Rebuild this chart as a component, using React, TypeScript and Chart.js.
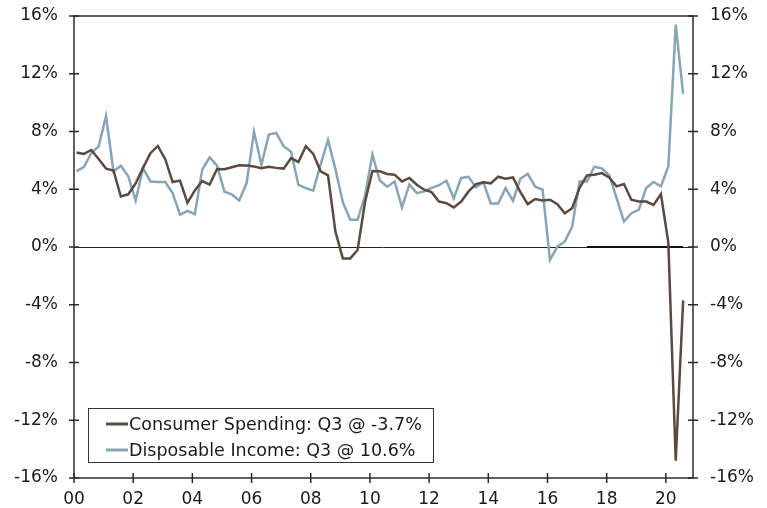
import React, { useEffect, useRef } from 'react';
import { Chart, registerables } from 'chart.js';

Chart.register(...registerables);

// ---------------- data ----------------
// quarterly observations, 2000 Q1 .. 2020 Q3 (y/y % change)
const firstYear = 2000;
const lastYear = 2020;
const lastQuarterOfLastYear = 3;
const quarters: string[] = [];
for (let y = firstYear; y <= lastYear; y++) {
  for (let q = 1; q <= 4; q++) {
    if (y === lastYear && q > lastQuarterOfLastYear) break;
    quarters.push(`${y} Q${q}`);
  }
}

const consumerSpending = [
  6.55, 6.45, 6.72, 6.1, 5.43, 5.3, 3.5, 3.65,
  4.4, 5.48, 6.5, 7.0, 6.08, 4.5, 4.6, 3.06,
  3.92, 4.57, 4.32, 5.4, 5.38, 5.52, 5.66, 5.65,
  5.58, 5.45, 5.55, 5.48, 5.43, 6.15, 5.89, 6.98,
  6.45, 5.24, 4.96, 1.07, -0.79, -0.79, -0.21, 3.1,
  5.26, 5.24, 5.06, 5.01, 4.54, 4.78, 4.31, 3.97,
  3.8, 3.15, 3.04, 2.74, 3.15, 3.85, 4.36, 4.48,
  4.41, 4.87, 4.73, 4.82, 3.8, 2.97, 3.32, 3.22,
  3.27, 2.97, 2.34, 2.69, 4.1, 4.96, 5.01, 5.12,
  4.82, 4.2, 4.36, 3.27, 3.15, 3.15, 2.92, 3.66,
  0.3, -14.8, -3.7,
];

const disposableIncome = [
  5.25, 5.54, 6.5, 6.98, 9.07, 5.24, 5.63, 4.89,
  3.22, 5.47, 4.54, 4.5, 4.5, 3.73, 2.23, 2.5,
  2.27, 5.36, 6.21, 5.63, 3.83, 3.64, 3.22, 4.43,
  7.98, 5.7, 7.79, 7.9, 6.98, 6.6, 4.3, 4.08,
  3.9, 5.7, 7.42, 5.4, 3.1, 1.88, 1.88, 3.55,
  6.4, 4.6, 4.18, 4.54, 2.74, 4.33, 3.73, 3.85,
  4.1, 4.28, 4.59, 3.37, 4.78, 4.86, 4.13, 4.48,
  3.02, 3.02, 4.08, 3.21, 4.73, 5.07, 4.18, 3.97,
  -0.9, 0.02, 0.37, 1.41, 4.54, 4.54, 5.56, 5.45,
  4.98, 3.4, 1.76, 2.34, 2.57, 4.08, 4.5, 4.2,
  5.6, 15.4, 10.6,
];

// heavy baseline segment drawn along 0% at the right end of the chart
const baselineFrom = '2017 Q2';

const seriesLabels = [
  'Consumer Spending: Q3 @ -3.7%',
  'Disposable Income: Q3 @ 10.6%',
];

const xTickYears = [2000, 2002, 2004, 2006, 2008, 2010, 2012, 2014, 2016, 2018, 2020];
const yTickValues = [-16, -12, -8, -4, 0, 4, 8, 12, 16];
const xAxisEnd = 2020 + 11 / 12; // December 2020

// ---------------- styles ----------------
const FONT = '"DejaVu Sans", Verdana, sans-serif';
const FONT_SIZE = 17;
const LEGEND_FONT_SIZE = 17.5;
const TEXT = '#1a1a1a';
const AXIS = '#2b2b2b';
const BROWN = '#5a4a3f';
const BLUE = '#88a5b7';

function quarterToX(label: string): number {
  const [y, q] = label.split(' Q');
  return Number(y) + (3 * Number(q) - 2) / 12;
}

const baselineStart = quarters.indexOf(baselineFrom);

const framePlugin = {
  id: 'framePlugin',
  afterDatasetsDraw(chart: any) {
    const { ctx, chartArea: a, scales } = chart;
    ctx.save();
    ctx.strokeStyle = AXIS;
    ctx.lineWidth = 1.5;
    ctx.strokeRect(a.left, a.top, a.right - a.left, a.bottom - a.top);
    ctx.beginPath();
    for (const v of yTickValues) {
      const y = scales.y.getPixelForValue(v);
      ctx.moveTo(a.left - 5, y);
      ctx.lineTo(a.left + 5, y);
      ctx.moveTo(a.right - 5, y);
      ctx.lineTo(a.right + 5, y);
    }
    for (const v of xTickYears) {
      const x = scales.x.getPixelForValue(v);
      ctx.moveTo(x, a.bottom - 5);
      ctx.lineTo(x, a.bottom + 5);
    }
    ctx.stroke();
    ctx.restore();
  },
  afterDraw(chart: any) {
    const { ctx, chartArea: a } = chart;
    const bx = a.left + 14;
    const by = a.bottom - 70;
    const bw = 345;
    const bh = 54;
    ctx.save();
    ctx.fillStyle = '#ffffff';
    ctx.fillRect(bx, by, bw, bh);
    ctx.strokeStyle = '#333333';
    ctx.lineWidth = 1;
    ctx.strokeRect(bx + 0.5, by + 0.5, bw, bh);
    const colors = [BROWN, BLUE];
    ctx.font = `${LEGEND_FONT_SIZE}px ${FONT}`;
    ctx.textBaseline = 'middle';
    ctx.textAlign = 'left';
    seriesLabels.forEach((lab, k) => {
      const cy = by + 16 + k * 26;
      ctx.strokeStyle = colors[k];
      ctx.lineWidth = 3;
      ctx.beginPath();
      ctx.moveTo(bx + 18, cy);
      ctx.lineTo(bx + 40, cy);
      ctx.stroke();
      ctx.fillStyle = TEXT;
      ctx.fillText(lab, bx + 41, cy + 1);
    });
    ctx.restore();
  },
};

export default function App() {
  const canvasRef = useRef<HTMLCanvasElement | null>(null);

  useEffect(() => {
    const canvas = canvasRef.current;
    if (!canvas) return;

    const brownPts = quarters.map((q, i) => ({ x: quarterToX(q), y: consumerSpending[i] }));
    const bluePts = quarters.map((q, i) => ({ x: quarterToX(q), y: disposableIncome[i] }));
    const basePts = quarters.map((q, i) => ({ x: quarterToX(q), y: i >= baselineStart ? 0 : null }));

    const tickFont = { family: FONT, size: FONT_SIZE };

    const fitY = (scale: any) => {
      scale.width = 74;
      scale.paddingTop = 0;
      scale.paddingBottom = 0;
    };

    const chart = new Chart(canvas, {
      type: 'line',
      data: {
        datasets: [
          {
            label: seriesLabels[0],
            data: brownPts as any,
            borderColor: BROWN,
            borderWidth: 2.5,
            pointRadius: 0,
            tension: 0,
            fill: false,
          },
          {
            label: seriesLabels[1],
            data: bluePts as any,
            borderColor: BLUE,
            borderWidth: 2.5,
            pointRadius: 0,
            tension: 0,
            fill: false,
          },
          {
            label: 'baseline',
            data: basePts as any,
            borderColor: '#111111',
            borderWidth: 2,
            pointRadius: 0,
            tension: 0,
            fill: false,
            spanGaps: false,
          },
        ],
      },
      options: {
        animation: false,
        responsive: false,
        devicePixelRatio: 1,
        layout: { padding: { top: 16, left: 0, right: 0, bottom: 0 } },
        plugins: {
          legend: { display: false },
          tooltip: { enabled: false },
        },
        scales: {
          x: {
            type: 'linear',
            min: 2000,
            max: xAxisEnd,
            grid: { display: false, drawTicks: false },
            border: { display: false },
            afterBuildTicks: (scale: any) => {
              scale.ticks = xTickYears.map((v) => ({ value: v }));
            },
            afterFit: (scale: any) => {
              scale.height = 30;
            },
            ticks: {
              autoSkip: false,
              maxRotation: 0,
              padding: 11,
              color: TEXT,
              font: tickFont,
              callback: (v: any) => String(Number(v) % 100).padStart(2, '0'),
            },
          },
          y: {
            position: 'left',
            min: -16,
            max: 16,
            grid: {
              drawTicks: false,
              lineWidth: 1,
              color: (c: any) => (c.tick && c.tick.value === 0 ? '#222222' : 'rgba(0,0,0,0)'),
            },
            border: { display: false },
            afterFit: fitY,
            ticks: {
              stepSize: 4,
              padding: 16,
              color: TEXT,
              font: tickFont,
              callback: (v: any) => `${v}%`,
            },
          },
          y2: {
            position: 'right',
            min: -16,
            max: 16,
            grid: { display: false, drawTicks: false },
            border: { display: false },
            afterFit: fitY,
            ticks: {
              stepSize: 4,
              padding: 17,
              color: TEXT,
              font: tickFont,
              callback: (v: any) => `${v}%`,
            },
          },
        },
      } as any,
      plugins: [framePlugin],
    });

    return () => chart.destroy();
  }, []);

  return (
    <div style={{ position: 'absolute', left: 0, top: 0, width: 767, height: 508, background: '#fff' }}>
      <canvas ref={canvasRef} width={767} height={508} style={{ display: 'block' }} />
    </div>
  );
}
